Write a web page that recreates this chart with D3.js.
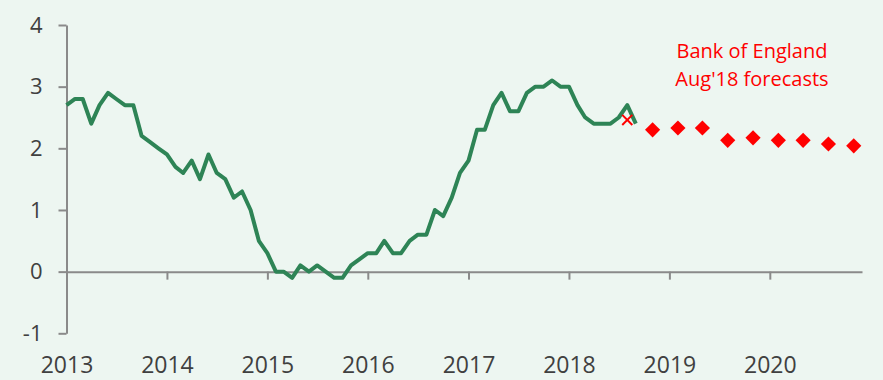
<!DOCTYPE html>
<html>
<head>
<meta charset="utf-8">
<script src="https://cdn.jsdelivr.net/npm/d3@7"></script>
<style>
  html, body { margin: 0; padding: 0; background: #edf6f1; }
  svg { display: block; font-family: "Open Sans", "Noto Sans", sans-serif; }
</style>
</head>
<body>
<svg id="chart" width="883" height="380"></svg>
<script>
// UK CPI inflation, annual % change, monthly from Jan 2013
const cpiStart = "2013-01";
const cpiValues = [
  2.7, 2.8, 2.8, 2.4, 2.7, 2.9, 2.8, 2.7, 2.7, 2.2, 2.1, 2.0,   // 2013
  1.9, 1.7, 1.6, 1.8, 1.5, 1.9, 1.6, 1.5, 1.2, 1.3, 1.0, 0.5,   // 2014
  0.3, 0.0, 0.0, -0.1, 0.1, 0.0, 0.1, 0.0, -0.1, -0.1, 0.1, 0.2, // 2015
  0.3, 0.3, 0.5, 0.3, 0.3, 0.5, 0.6, 0.6, 1.0, 0.9, 1.2, 1.6,   // 2016
  1.8, 2.3, 2.3, 2.7, 2.9, 2.6, 2.6, 2.9, 3.0, 3.0, 3.1, 3.0,   // 2017
  3.0, 2.7, 2.5, 2.4, 2.4, 2.4, 2.5, 2.7, 2.4                   // 2018
];

// Bank of England August 2018 projection for the current quarter
const nowcastMonth = "2018-08";
const nowcastValue = 2.46;

// Bank of England August 2018 quarterly projections
const forecastMonths = ["2018-11", "2019-02", "2019-05", "2019-08", "2019-11",
                        "2020-02", "2020-05", "2020-08", "2020-11"];
const forecastValues = [2.30, 2.33, 2.33, 2.13, 2.17, 2.13, 2.13, 2.07, 2.04];

const yTickValues = [-1, 0, 1, 2, 3, 4];
const yTickLabels = ["-1", "0", "1", "2", "3", "4"];
const xTickYears = ["2013", "2014", "2015", "2016", "2017", "2018", "2019", "2020"];
const annotationLines = ["Bank of England", "Aug'18 forecasts"];

const parseMonth = d3.timeParse("%Y-%m");
const startDate = parseMonth(cpiStart);
const cpi = cpiValues.map((v, i) => ({ date: d3.timeMonth.offset(startDate, i), value: v }));
const forecasts = forecastMonths.map((m, i) => ({ date: parseMonth(m), value: forecastValues[i] }));
const nowcast = { date: parseMonth(nowcastMonth), value: nowcastValue };

const svg = d3.select("#chart");
const W = 883, H = 380;
const plotLeft = 66.5, plotRight = 862, plotTop = 25, plotBottom = 333.3;

svg.append("rect").attr("width", W).attr("height", H).attr("fill", "#edf6f1");

const x = d3.scaleTime()
  .domain([parseMonth("2013-01"), parseMonth("2020-12")])
  .range([plotLeft, plotRight]);
const y = d3.scaleLinear().domain([-1, 4]).range([plotBottom, plotTop]);

const axisColor = "#8a8a8a";
const textColor = "#404040";

// Vertical axis
const yAxis = svg.append("g")
  .attr("transform", `translate(${plotLeft},0)`)
  .call(d3.axisLeft(y).tickValues(yTickValues)
    .tickFormat((d, i) => yTickLabels[i])
    .tickSize(8).tickSizeOuter(0).tickPadding(16));

// Horizontal axis along zero, year labels beneath the plot
const yearDates = xTickYears.map(s => d3.timeParse("%Y")(s));
const xAxis = svg.append("g")
  .attr("transform", `translate(0,${y(0)})`)
  .call(d3.axisBottom(x).tickValues(yearDates)
    .tickFormat((d, i) => xTickYears[i])
    .tickSize(8).tickSizeOuter(0).tickPadding(77));

[yAxis, xAxis].forEach(g => {
  g.selectAll(".domain").attr("stroke", axisColor).attr("stroke-width", 2);
  g.selectAll(".tick line").attr("stroke", axisColor).attr("stroke-width", 2);
  g.selectAll(".tick text").attr("fill", textColor)
    .style("font-family", '"Open Sans", sans-serif');
});
yAxis.selectAll(".tick text").style("font-size", "22px");
xAxis.selectAll(".tick text").style("font-size", "23px");

// CPI line
const line = d3.line().x(d => x(d.date)).y(d => y(d.value));
svg.append("path")
  .datum(cpi)
  .attr("d", line)
  .attr("fill", "none")
  .attr("stroke", "#2e8456")
  .attr("stroke-width", 4)
  .attr("stroke-linejoin", "round");

// Current-quarter projection marker
svg.append("path")
  .attr("d", d3.symbol(d3.symbolX, 68)())
  .attr("transform", `translate(${x(nowcast.date)},${y(nowcast.value)})`)
  .attr("fill", "none")
  .attr("stroke", "#ff0000")
  .attr("stroke-width", 2);

// Quarterly projection diamonds
svg.append("g").selectAll("path")
  .data(forecasts)
  .join("path")
  .attr("d", d3.symbol(d3.symbolSquare, 115)())
  .attr("transform", d => `translate(${x(d.date)},${y(d.value)}) rotate(45)`)
  .attr("fill", "#ff0000");

// Annotation, two lines
svg.append("g")
  .attr("fill", "#ff0000")
  .style("font-size", "20px")
  .selectAll("text")
  .data(annotationLines)
  .join("text")
  .attr("x", 752)
  .attr("y", (d, i) => 58 + i * 27.5)
  .attr("text-anchor", "middle")
  .text(d => d);
</script>
</body>
</html>
